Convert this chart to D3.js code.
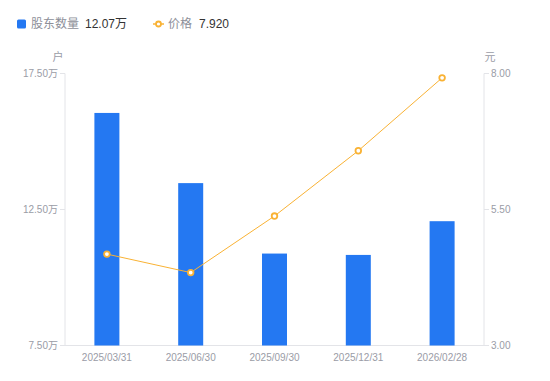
<!DOCTYPE html>
<html><head><meta charset="utf-8">
<script src="https://cdn.jsdelivr.net/npm/d3@7/dist/d3.min.js"></script>
<style>body{margin:0;background:#fff;}svg{display:block;font-family:"Liberation Sans",Arial,"Noto Sans CJK SC",sans-serif;}</style>
</head><body><svg id="c" width="550" height="381"></svg>
<script>
const categories = ["2025/03/31","2025/06/30","2025/09/30","2025/12/31","2026/02/28"];
const holders = [16.05, 13.47, 10.88, 10.83, 12.07]; // 万户
const prices = [4.68, 4.34, 5.38, 6.58, 7.92];
const leftTicks = [7.5, 12.5, 17.5];
const rightTicks = [3.0, 5.5, 8.0];

const svg = d3.select("#c");
const L = 65, R = 484, T = 73.5, B = 345.5;
const x = d3.scaleBand().domain(categories).range([L, R]).paddingInner(0).paddingOuter(0);
const yL = d3.scaleLinear().domain([7.5, 17.5]).range([B, T]);
const yR = d3.scaleLinear().domain([3, 8]).range([B, T]);
const gray = "#9a9ca6", axisC = "#e3e4e8";
const blue = "#2478f2", orange = "#f9b234";

svg.append("line").attr("x1", L).attr("x2", L).attr("y1", T).attr("y2", B).attr("stroke", axisC);
svg.append("line").attr("x1", R).attr("x2", R).attr("y1", T).attr("y2", B).attr("stroke", axisC);
svg.append("line").attr("x1", L).attr("x2", R).attr("y1", B).attr("y2", B).attr("stroke", axisC);

leftTicks.forEach(t => {
  svg.append("line").attr("x1", L - 5).attr("x2", L).attr("y1", yL(t)).attr("y2", yL(t)).attr("stroke", axisC);
  svg.append("text").attr("x", L - 7).attr("y", yL(t)).attr("dy", "0.35em").attr("text-anchor", "end")
    .attr("font-size", 10).attr("fill", gray).text(t.toFixed(2) + "万");
});
rightTicks.forEach(t => {
  svg.append("line").attr("x1", R).attr("x2", R + 5).attr("y1", yR(t)).attr("y2", yR(t)).attr("stroke", axisC);
  svg.append("text").attr("x", R + 7).attr("y", yR(t)).attr("dy", "0.35em").attr("text-anchor", "start")
    .attr("font-size", 10).attr("fill", gray).text(t.toFixed(2));
});
svg.append("text").attr("x", 58).attr("y", 61).attr("text-anchor", "middle").attr("font-size", 11).attr("fill", gray).text("户");
svg.append("text").attr("x", 490).attr("y", 61).attr("text-anchor", "middle").attr("font-size", 11).attr("fill", gray).text("元");

categories.forEach(c => {
  svg.append("text").attr("x", x(c) + x.bandwidth() / 2).attr("y", 361).attr("text-anchor", "middle")
    .attr("font-size", 10).attr("fill", gray).text(c);
});

const bw = 25;
svg.selectAll("rect.bar").data(holders).enter().append("rect").attr("class", "bar")
  .attr("x", (d, i) => x(categories[i]) + x.bandwidth() / 2 - bw / 2)
  .attr("width", bw)
  .attr("y", d => yL(d))
  .attr("height", d => B - yL(d))
  .attr("fill", blue);

const line = d3.line().x((d, i) => x(categories[i]) + x.bandwidth() / 2).y(d => yR(d));
svg.append("path").datum(prices).attr("d", line).attr("fill", "none").attr("stroke", orange).attr("stroke-width", 1);
svg.selectAll("circle.pt").data(prices).enter().append("circle").attr("class", "pt")
  .attr("cx", (d, i) => x(categories[i]) + x.bandwidth() / 2).attr("cy", d => yR(d))
  .attr("r", 2.8).attr("fill", "#fff").attr("stroke", orange).attr("stroke-width", 1.8);

const ly = 24;
svg.append("rect").attr("x", 17).attr("y", ly - 4.5).attr("width", 9).attr("height", 9).attr("rx", 1.5).attr("fill", blue);
svg.append("text").attr("x", 31).attr("y", ly).attr("dy", "0.35em").attr("font-size", 12).attr("fill", "#8d8f99").text("股东数量");
svg.append("text").attr("x", 85).attr("y", ly).attr("dy", "0.35em").attr("font-size", 12).attr("fill", "#333").text(holders[holders.length - 1].toFixed(2) + "万");
svg.append("line").attr("x1", 153).attr("x2", 164).attr("y1", ly).attr("y2", ly).attr("stroke", orange).attr("stroke-width", 1.5);
svg.append("circle").attr("cx", 158.5).attr("cy", ly).attr("r", 2.5).attr("fill", "#fff").attr("stroke", orange).attr("stroke-width", 1.8);
svg.append("text").attr("x", 168).attr("y", ly).attr("dy", "0.35em").attr("font-size", 12).attr("fill", "#8d8f99").text("价格");
svg.append("text").attr("x", 199).attr("y", ly).attr("dy", "0.35em").attr("font-size", 12).attr("fill", "#333").text(prices[prices.length - 1].toFixed(3));
</script></body></html>
